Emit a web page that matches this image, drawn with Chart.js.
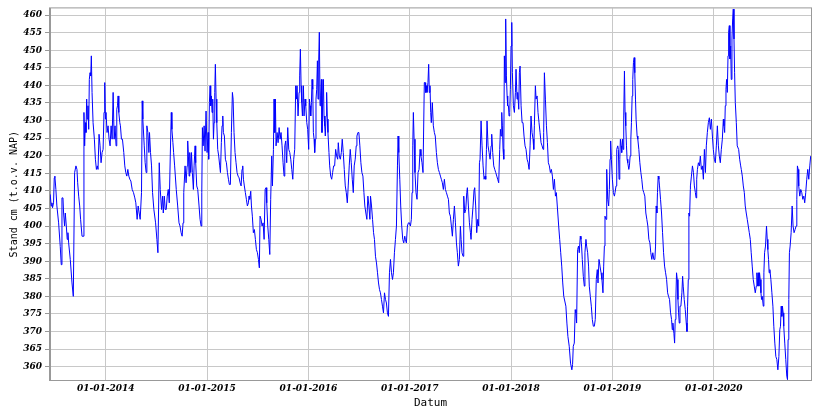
<!DOCTYPE html>
<html>
<head>
<meta charset="utf-8">
<script src="https://cdn.jsdelivr.net/npm/chart.js@4"></script>
<style>
  body { margin: 0; background: #fff; }
</style>
</head>
<body>
<canvas id="chart" width="821" height="410"></canvas>
<script>
// waterstand, datum als decimaal jaar
const dates = [
  2013.452, 2013.462, 2013.469, 2013.475, 2013.485, 2013.492, 2013.498, 2013.508, 2013.518, 2013.535,
  2013.551, 2013.561, 2013.568, 2013.578, 2013.584, 2013.594, 2013.601, 2013.611, 2013.620, 2013.627,
  2013.634, 2013.650, 2013.667, 2013.680, 2013.693, 2013.706, 2013.716, 2013.723, 2013.733, 2013.743,
  2013.752, 2013.766, 2013.776, 2013.785, 2013.792, 2013.799, 2013.805, 2013.812, 2013.818, 2013.825,
  2013.832, 2013.838, 2013.845, 2013.852, 2013.858, 2013.865, 2013.875, 2013.888, 2013.898, 2013.908,
  2013.917, 2013.924, 2013.934, 2013.944, 2013.954, 2013.964, 2013.974, 2013.983, 2013.990, 2013.997,
  2014.003, 2014.013, 2014.023, 2014.033, 2014.043, 2014.053, 2014.063, 2014.073, 2014.083, 2014.092,
  2014.102, 2014.109, 2014.116, 2014.122, 2014.129, 2014.139, 2014.145, 2014.155, 2014.165, 2014.178,
  2014.188, 2014.198, 2014.208, 2014.218, 2014.228, 2014.238, 2014.248, 2014.261, 2014.274, 2014.287,
  2014.297, 2014.310, 2014.320, 2014.330, 2014.340, 2014.347, 2014.353, 2014.360, 2014.366, 2014.380,
  2014.389, 2014.399, 2014.406, 2014.416, 2014.426, 2014.432, 2014.442, 2014.452, 2014.462, 2014.475,
  2014.492, 2014.505, 2014.515, 2014.521, 2014.528, 2014.538, 2014.551, 2014.561, 2014.568, 2014.578,
  2014.587, 2014.597, 2014.607, 2014.617, 2014.627, 2014.637, 2014.647, 2014.653, 2014.663, 2014.670,
  2014.680, 2014.696, 2014.710, 2014.723, 2014.733,
  2014.744, 2014.754, 2014.763, 2014.770, 2014.783, 2014.793, 2014.803, 2014.809, 2014.816, 2014.823,
  2014.829, 2014.839, 2014.846, 2014.855, 2014.865, 2014.872, 2014.882, 2014.888, 2014.898, 2014.908,
  2014.921, 2014.931, 2014.941, 2014.948, 2014.954, 2014.961, 2014.971, 2014.980, 2014.990, 2015.000,
  2015.010, 2015.016, 2015.023, 2015.030, 2015.036, 2015.043, 2015.049, 2015.056, 2015.063, 2015.069,
  2015.076, 2015.082, 2015.089, 2015.096, 2015.105, 2015.115, 2015.125, 2015.132, 2015.141, 2015.148,
  2015.155, 2015.161, 2015.171, 2015.181, 2015.191, 2015.201, 2015.211, 2015.220, 2015.230, 2015.240,
  2015.250, 2015.257, 2015.266, 2015.276, 2015.286, 2015.296, 2015.306, 2015.316, 2015.326, 2015.336,
  2015.345, 2015.352, 2015.359, 2015.368, 2015.378, 2015.388, 2015.398, 2015.408, 2015.414, 2015.421,
  2015.431, 2015.438, 2015.447, 2015.457, 2015.467, 2015.477, 2015.487, 2015.497, 2015.507, 2015.516,
  2015.523, 2015.533, 2015.543, 2015.553, 2015.563, 2015.573, 2015.582, 2015.589, 2015.599, 2015.609,
  2015.619, 2015.628, 2015.638, 2015.645, 2015.655, 2015.661, 2015.668, 2015.674, 2015.681, 2015.691,
  2015.701, 2015.711, 2015.721, 2015.730, 2015.740, 2015.750, 2015.760, 2015.767, 2015.776, 2015.786,
  2015.796, 2015.806, 2015.816, 2015.826, 2015.836, 2015.846, 2015.855, 2015.865, 2015.875, 2015.882,
  2015.888, 2015.898, 2015.908, 2015.914, 2015.921, 2015.928, 2015.934, 2015.941, 2015.951, 2015.957,
  2015.967, 2015.974,
  2015.984, 2015.993, 2016.003, 2016.010, 2016.016, 2016.023, 2016.030, 2016.036, 2016.043, 2016.049,
  2016.056, 2016.062, 2016.069, 2016.075, 2016.082, 2016.089, 2016.095, 2016.102, 2016.108, 2016.115,
  2016.121, 2016.128, 2016.134, 2016.141, 2016.148, 2016.154, 2016.161, 2016.167, 2016.174, 2016.180,
  2016.187, 2016.193, 2016.203, 2016.210, 2016.220, 2016.230, 2016.239, 2016.249, 2016.259, 2016.269,
  2016.279, 2016.289, 2016.295, 2016.305, 2016.315, 2016.325, 2016.334, 2016.344, 2016.354, 2016.364,
  2016.374, 2016.384, 2016.393, 2016.403, 2016.413, 2016.423, 2016.433, 2016.443, 2016.452, 2016.462,
  2016.472, 2016.479, 2016.489, 2016.498, 2016.508, 2016.518, 2016.528, 2016.538, 2016.548, 2016.557,
  2016.567, 2016.577, 2016.587, 2016.597, 2016.607, 2016.613, 2016.623, 2016.633, 2016.643, 2016.652,
  2016.662, 2016.672, 2016.682, 2016.692, 2016.702, 2016.711, 2016.721, 2016.731, 2016.741, 2016.751,
  2016.761, 2016.770, 2016.780, 2016.790, 2016.800, 2016.810, 2016.820, 2016.830, 2016.839, 2016.849,
  2016.859, 2016.869, 2016.879, 2016.885, 2016.892, 2016.902, 2016.911, 2016.921, 2016.931, 2016.941,
  2016.951, 2016.957, 2016.967, 2016.977, 2016.987, 2016.997, 2017.007, 2017.016, 2017.023, 2017.030,
  2017.036, 2017.043, 2017.052, 2017.062, 2017.072, 2017.082, 2017.092, 2017.102, 2017.111, 2017.121,
  2017.131, 2017.138, 2017.144, 2017.151, 2017.157, 2017.164, 2017.170, 2017.180, 2017.187, 2017.193,
  2017.200, 2017.207, 2017.213, 2017.223, 2017.233, 2017.243, 2017.252,
  2017.263, 2017.273, 2017.283, 2017.293, 2017.303, 2017.312, 2017.322, 2017.332, 2017.342, 2017.352,
  2017.362, 2017.372, 2017.382, 2017.391, 2017.401, 2017.411, 2017.421, 2017.431, 2017.441, 2017.451,
  2017.461, 2017.470, 2017.480, 2017.490, 2017.500, 2017.507, 2017.516, 2017.526, 2017.533, 2017.543,
  2017.553, 2017.563, 2017.569, 2017.579, 2017.589, 2017.599, 2017.605, 2017.615, 2017.625, 2017.635,
  2017.641, 2017.651, 2017.661, 2017.671, 2017.681, 2017.688, 2017.694, 2017.704, 2017.714, 2017.724,
  2017.734, 2017.743, 2017.750, 2017.757, 2017.763, 2017.773, 2017.783, 2017.793, 2017.803, 2017.809,
  2017.819, 2017.829, 2017.839, 2017.849, 2017.859, 2017.868, 2017.878, 2017.888, 2017.895, 2017.901,
  2017.908, 2017.914, 2017.921, 2017.928, 2017.934, 2017.941, 2017.947, 2017.954, 2017.961, 2017.967,
  2017.974, 2017.980, 2017.987, 2017.993, 2018.000, 2018.007, 2018.013, 2018.023, 2018.033, 2018.043,
  2018.049, 2018.059, 2018.066, 2018.076, 2018.082, 2018.089, 2018.099, 2018.109, 2018.118, 2018.128,
  2018.138, 2018.148, 2018.158, 2018.168, 2018.178, 2018.188, 2018.197, 2018.207, 2018.217, 2018.224,
  2018.230, 2018.240, 2018.247, 2018.257, 2018.266, 2018.276, 2018.286, 2018.296, 2018.306, 2018.316,
  2018.322, 2018.329, 2018.339, 2018.349, 2018.359, 2018.368, 2018.378, 2018.388, 2018.398, 2018.408,
  2018.418, 2018.428, 2018.438, 2018.447, 2018.461, 2018.470, 2018.480, 2018.490, 2018.500, 2018.510,
  2018.520,
  2018.541, 2018.551, 2018.561, 2018.574, 2018.587, 2018.600, 2018.607, 2018.614, 2018.624, 2018.633,
  2018.640, 2018.647, 2018.657, 2018.666, 2018.673, 2018.683, 2018.690, 2018.696, 2018.703, 2018.713,
  2018.723, 2018.729, 2018.739, 2018.746, 2018.756, 2018.765, 2018.772, 2018.782, 2018.792, 2018.802,
  2018.812, 2018.822, 2018.831, 2018.841, 2018.851, 2018.858, 2018.868, 2018.878, 2018.888, 2018.897,
  2018.907, 2018.914, 2018.921, 2018.927, 2018.937, 2018.944, 2018.954, 2018.963, 2018.970, 2018.977,
  2018.983, 2018.990, 2019.000, 2019.010, 2019.020, 2019.026, 2019.036, 2019.043, 2019.053, 2019.059,
  2019.066, 2019.073, 2019.079, 2019.086, 2019.092, 2019.099, 2019.106, 2019.112, 2019.119, 2019.125,
  2019.132, 2019.139, 2019.145, 2019.152, 2019.162, 2019.168, 2019.175, 2019.182, 2019.188, 2019.195,
  2019.201, 2019.208, 2019.215, 2019.221, 2019.228, 2019.234, 2019.244, 2019.251, 2019.261, 2019.271,
  2019.281, 2019.290, 2019.300, 2019.310, 2019.320, 2019.330, 2019.340, 2019.350, 2019.360, 2019.370,
  2019.379, 2019.389, 2019.399, 2019.409, 2019.419, 2019.426, 2019.432, 2019.439, 2019.445, 2019.452,
  2019.459, 2019.465, 2019.475, 2019.485, 2019.495, 2019.505, 2019.515, 2019.525, 2019.535, 2019.545,
  2019.554, 2019.564, 2019.574, 2019.584, 2019.591, 2019.597, 2019.607, 2019.614, 2019.620, 2019.627,
  2019.633, 2019.640, 2019.647, 2019.653, 2019.660, 2019.667, 2019.676, 2019.686, 2019.693, 2019.699,
  2019.709, 2019.719, 2019.729, 2019.736, 2019.742, 2019.749, 2019.755, 2019.762, 2019.769,
  2019.770, 2019.780, 2019.790, 2019.800, 2019.809, 2019.819, 2019.826, 2019.832, 2019.839, 2019.849,
  2019.859, 2019.868, 2019.878, 2019.888, 2019.898, 2019.908, 2019.918, 2019.927, 2019.937, 2019.947,
  2019.957, 2019.967, 2019.977, 2019.987, 2019.996, 2020.006, 2020.016, 2020.026, 2020.036, 2020.046,
  2020.055, 2020.065, 2020.075, 2020.085, 2020.095, 2020.101, 2020.108, 2020.114, 2020.121, 2020.127,
  2020.134, 2020.141, 2020.147, 2020.154, 2020.160, 2020.167, 2020.173, 2020.180, 2020.187, 2020.193,
  2020.200, 2020.206, 2020.213, 2020.223, 2020.232, 2020.246, 2020.256, 2020.266, 2020.272, 2020.282,
  2020.292, 2020.302, 2020.311, 2020.321, 2020.331, 2020.341, 2020.351, 2020.361, 2020.370, 2020.380,
  2020.390, 2020.400, 2020.410, 2020.420, 2020.426, 2020.433, 2020.439, 2020.446, 2020.452, 2020.459,
  2020.466, 2020.472, 2020.479, 2020.489, 2020.495, 2020.502, 2020.511, 2020.521, 2020.528, 2020.534,
  2020.541, 2020.547, 2020.554, 2020.564, 2020.574, 2020.584, 2020.593, 2020.603, 2020.613, 2020.623,
  2020.633, 2020.643, 2020.652, 2020.659, 2020.666, 2020.672, 2020.678, 2020.685, 2020.691, 2020.701,
  2020.711, 2020.721, 2020.728, 2020.734, 2020.741, 2020.747, 2020.754, 2020.764, 2020.774, 2020.783,
  2020.793, 2020.803, 2020.813, 2020.820, 2020.826, 2020.833, 2020.839, 2020.849, 2020.859, 2020.869,
  2020.879, 2020.889, 2020.898, 2020.908, 2020.918, 2020.928, 2020.938, 2020.948, 2020.957
];

// stand in cm t.o.v. NAP
const levels = [
  409.0, 405.7, 406.6, 405.2, 406.6, 413.7, 414.2, 410.4, 405.7, 400.9,
  394.2, 389.0, 408.0, 408.0, 403.7, 400.0, 403.7, 400.0, 396.2, 398.1,
  395.2, 390.5, 383.8, 380.0, 415.2, 417.1, 416.1, 412.3, 408.5, 405.7,
  401.9, 397.1, 397.1, 432.3, 422.8, 429.4, 426.6, 436.1, 430.4, 434.2,
  427.5, 441.7, 443.6, 442.7, 448.4, 438.0, 429.4, 424.7, 419.0, 416.1,
  417.1, 416.1, 426.1, 422.8, 418.0, 420.9, 421.8, 432.3, 440.8, 430.4,
  432.3, 426.6, 428.5, 424.7, 422.8, 428.5, 424.7, 438.0, 424.7, 428.5,
  422.8, 433.2, 434.2, 437.0, 432.3, 429.4, 428.5, 424.7, 424.7, 420.9,
  417.1, 415.2, 414.2, 416.1, 414.2, 413.3, 412.8, 410.4, 409.5, 408.0,
  406.6, 401.9, 405.7, 403.7, 401.9, 401.9, 409.5, 435.6, 430.4, 422.8,
  418.0, 415.2, 428.5, 426.6, 420.9, 426.6, 420.9, 417.1, 409.5, 404.7,
  400.9, 396.2, 392.4, 403.7, 418.0, 410.4, 404.7, 408.5, 403.7, 408.5,
  404.7, 404.7, 408.5, 410.4, 406.6, 419.9, 432.3, 427.5, 423.7, 420.9,
  417.1, 410.4, 405.7, 400.9, 400.0,
  398.1, 397.1, 400.9, 409.5, 417.1, 412.3, 417.1, 424.2, 419.9, 414.2,
  420.9, 415.2, 420.9, 415.2, 410.4, 417.1, 422.8, 418.0, 411.4, 410.4,
  405.7, 401.9, 400.0, 409.5, 428.0, 422.8, 428.5, 421.3, 432.7, 420.9,
  426.6, 419.0, 435.1, 439.9, 434.2, 437.0, 432.3, 436.1, 424.7, 429.4,
  438.0, 446.0, 436.1, 429.4, 421.8, 419.9, 417.1, 415.2, 423.7, 428.5,
  431.3, 426.6, 425.6, 419.0, 418.0, 415.2, 413.3, 411.8, 411.8, 426.6,
  438.0, 436.1, 426.6, 420.9, 418.0, 415.2, 414.2, 413.7, 412.3, 411.4,
  416.1, 417.1, 413.3, 411.4, 409.5, 407.6, 405.7, 406.6, 408.5, 407.6,
  409.9, 405.7, 402.8, 398.1, 399.0, 396.2, 393.3, 392.4, 390.5, 388.1,
  402.8, 401.9, 400.0, 400.9, 396.2, 410.4, 410.9, 406.6, 400.0, 396.2,
  391.9, 407.6, 419.9, 411.4, 421.8, 436.1, 426.6, 436.1, 422.8, 426.6,
  423.7, 428.0, 424.7, 426.6, 422.8, 418.0, 414.2, 422.8, 424.2, 418.0,
  428.0, 421.8, 420.9, 419.0, 416.1, 413.3, 419.0, 421.8, 439.9, 436.1,
  439.9, 431.3, 438.0, 442.7, 450.3, 439.9, 435.1, 431.3, 439.9, 431.3,
  436.1, 434.2,
  429.4, 427.5, 421.8, 436.1, 434.2, 431.3, 435.1, 441.7, 438.9, 426.6,
  424.7, 420.9, 424.7, 436.1, 438.9, 447.0, 436.1, 447.5, 455.1, 434.2,
  437.0, 441.7, 426.6, 435.1, 441.7, 431.3, 428.5, 425.6, 431.3, 438.0,
  430.4, 426.6, 420.9, 417.1, 414.2, 413.3, 415.2, 417.1, 417.1, 421.8,
  419.9, 419.0, 423.7, 419.9, 419.0, 420.9, 424.7, 420.9, 416.1, 411.4,
  409.5, 406.6, 411.4, 417.1, 421.8, 418.0, 413.3, 409.5, 417.1, 419.0,
  422.8, 425.6, 426.6, 426.6, 422.8, 418.0, 415.2, 414.2, 409.5, 405.7,
  403.7, 401.9, 408.5, 405.7, 401.9, 408.5, 405.7, 401.9, 398.1, 396.2,
  391.4, 389.5, 386.7, 383.8, 381.9, 381.0, 379.1, 377.2, 375.3, 381.0,
  379.1, 378.1, 375.3, 374.3, 386.7, 390.5, 386.7, 384.8, 386.7, 392.4,
  396.2, 400.0, 417.1, 425.6, 420.9, 413.3, 405.7, 400.0, 396.2, 395.2,
  397.1, 396.2, 395.2, 400.0, 400.9, 400.9, 400.0, 401.9, 409.5, 422.8,
  432.3, 424.7, 415.2, 409.5, 407.6, 415.2, 416.1, 421.8, 419.9, 418.0,
  415.2, 415.2, 440.8, 440.8, 438.0, 439.9, 438.0, 440.8, 446.0, 438.0,
  439.9, 432.3, 429.4, 435.1, 428.5, 426.6, 425.6,
  420.9, 418.0, 416.1, 415.2, 414.2, 413.3, 412.3, 410.4, 413.3, 410.4,
  409.5, 408.5, 407.6, 403.7, 402.8, 400.0, 397.1, 401.9, 405.7, 400.9,
  395.2, 392.4, 388.6, 390.5, 400.0, 396.2, 392.4, 391.4, 408.5, 403.7,
  404.7, 409.5, 410.9, 405.7, 400.9, 398.1, 396.2, 401.9, 405.7, 410.4,
  410.9, 405.7, 398.1, 401.9, 400.0, 418.0, 419.0, 429.9, 422.8, 417.1,
  413.3, 414.2, 413.3, 421.8, 429.9, 422.8, 420.9, 419.0, 422.8, 426.1,
  420.9, 417.1, 416.1, 415.2, 414.2, 413.3, 412.3, 421.8, 427.5, 425.6,
  432.3, 428.5, 421.8, 419.0, 448.4, 440.8, 458.9, 442.7, 437.0, 434.2,
  434.2, 431.3, 432.3, 438.9, 451.2, 457.9, 443.6, 434.2, 432.3, 438.0,
  444.6, 436.1, 438.0, 433.2, 443.6, 445.5, 434.2, 429.4, 429.4, 425.6,
  422.8, 421.8, 419.0, 418.0, 416.1, 422.8, 431.3, 426.6, 424.7, 421.8,
  428.5, 439.9, 436.1, 437.0, 432.3, 429.4, 426.6, 423.7, 422.8, 421.8,
  426.6, 443.6, 436.1, 428.5, 423.7, 418.0, 417.1, 415.2, 416.1, 414.2,
  410.4, 413.3, 408.5, 409.5, 403.7, 400.0, 396.2, 392.4, 388.6, 383.8,
  380.0,
  377.2, 372.4, 368.6, 365.8, 361.0, 359.1, 360.6, 365.8, 366.7, 376.2,
  375.3, 372.4, 393.3, 394.3, 392.4, 397.1, 396.2, 394.3, 390.5, 385.7,
  382.9, 392.4, 396.2, 394.3, 392.4, 388.6, 382.9, 380.0, 377.2, 373.4,
  371.5, 371.5, 373.4, 384.8, 387.6, 383.8, 390.5, 388.6, 386.7, 384.8,
  381.0, 388.6, 394.3, 402.8, 401.9, 416.1, 407.6, 405.7, 410.4, 419.0,
  424.2, 419.0, 413.3, 409.5, 408.5, 409.5, 411.4, 421.8, 422.8, 421.8,
  413.3, 419.0, 424.7, 422.8, 420.9, 424.7, 421.8, 431.3, 444.1, 432.3,
  428.5, 422.8, 419.0, 418.0, 416.1, 417.1, 419.9, 424.7, 429.4, 437.0,
  441.7, 446.5, 447.9, 443.6, 436.1, 430.4, 425.6, 424.7, 421.8, 418.0,
  415.2, 413.3, 410.4, 409.5, 408.5, 403.7, 401.9, 400.0, 396.2, 395.2,
  392.4, 390.5, 392.4, 390.5, 390.5, 394.3, 405.7, 403.7, 409.5, 414.2,
  413.3, 411.4, 407.6, 403.7, 398.1, 392.4, 388.6, 386.7, 384.8, 381.0,
  380.0, 379.1, 375.3, 373.4, 370.5, 372.4, 369.5, 366.7, 373.4, 380.0,
  386.7, 384.8, 379.1, 375.3, 372.4, 377.2, 377.2, 381.0, 385.7, 382.9,
  379.1, 376.3, 372.4, 370.0, 377.2, 384.8, 403.7, 402.8, 410.4,
  411.4, 414.2, 417.1, 415.2, 411.4, 409.5, 408.0, 413.3, 416.1, 418.0,
  417.1, 419.9, 416.1, 417.1, 413.3, 421.8, 415.2, 422.8, 426.6, 429.4,
  430.8, 427.5, 430.4, 425.6, 421.8, 419.0, 418.0, 422.8, 428.5, 422.8,
  419.9, 418.0, 421.8, 424.7, 430.4, 428.5, 426.6, 434.2, 438.9, 441.7,
  438.0, 448.4, 455.1, 457.0, 447.5, 451.2, 441.7, 453.2, 458.9, 461.7,
  453.2, 443.6, 435.1, 429.4, 422.8, 421.8, 419.0, 417.1, 416.1, 414.2,
  411.4, 409.5, 405.7, 403.7, 401.9, 400.0, 398.1, 396.2, 392.4, 388.6,
  384.8, 382.9, 381.0, 382.9, 386.7, 382.9, 386.7, 382.9, 386.7, 384.8,
  381.0, 379.1, 380.0, 377.2, 386.7, 392.4, 394.3, 400.0, 396.2, 393.3,
  390.5, 386.7, 387.6, 384.8, 381.0, 377.2, 371.5, 366.7, 362.9, 362.0,
  359.1, 362.9, 370.5, 371.5, 377.2, 374.3, 377.2, 375.3, 371.5, 366.7,
  362.0, 357.3, 356.3, 367.7, 379.1, 392.4, 394.3, 398.1, 405.7, 400.0,
  398.1, 399.0, 400.0, 407.6, 417.1, 416.1, 411.4, 408.5, 410.4, 409.5,
  407.6, 408.5, 406.6, 409.5, 413.3, 416.1, 413.3, 417.1, 419.9
];

const yTicks = [360, 365, 370, 375, 380, 385, 390, 395, 400, 405, 410, 415, 420,
                425, 430, 435, 440, 445, 450, 455, 460];
const xTicks = [2014, 2015, 2016, 2017, 2018, 2019, 2020];
const xTickLabels = ["01-01-2014", "01-01-2015", "01-01-2016", "01-01-2017",
                     "01-01-2018", "01-01-2019", "01-01-2020"];

const tickFont = { family: "DejaVu Serif", size: 9, style: "italic", weight: "bold" };
const titleFont = { family: "DejaVu Sans Mono", size: 10 };

// kader om het plotgebied
const frame = {
  id: "frame",
  afterDraw(chart) {
    const a = chart.chartArea;
    const ctx = chart.ctx;
    ctx.save();
    ctx.strokeStyle = "#999999";
    ctx.lineWidth = 1;
    ctx.strokeRect(a.left - 0.5, a.top - 0.5, a.right - a.left + 1, a.bottom - a.top + 1);
    ctx.restore();
  }
};

const points = dates.map((d, i) => ({ x: d, y: levels[i] }));

new Chart(document.getElementById("chart"), {
  type: "line",
  data: {
    datasets: [{
      data: points,
      borderColor: "#0000ff",
      borderWidth: 1,
      pointRadius: 0,
      tension: 0,
      fill: false
    }]
  },
  options: {
    responsive: false,
    animation: false,
    layout: { padding: { top: 7, right: 10, left: 0, bottom: 0 } },
    plugins: {
      legend: { display: false },
      tooltip: { enabled: false }
    },
    scales: {
      x: {
        type: "linear",
        min: 2013.45,
        max: 2020.96,
        afterBuildTicks: (s) => { s.ticks = xTicks.map((v) => ({ value: v })); },
        afterFit: (s) => { s.height = 30; },
        grid: { color: "#c8c8c8", drawTicks: false },
        border: { color: "#999999" },
        ticks: {
          autoSkip: false,
          maxRotation: 0,
          padding: 3,
          color: "#000",
          font: tickFont,
          callback: (v) => xTickLabels[xTicks.indexOf(v)]
        },
        title: {
          display: true,
          text: "Datum",
          color: "#000",
          font: { family: "DejaVu Sans Mono", size: 11 },
          padding: { top: 0, bottom: 0 }
        }
      },
      y: {
        min: 356.2,
        max: 461.9,
        afterBuildTicks: (s) => { s.ticks = yTicks.map((v) => ({ value: v })); },
        afterFit: (s) => { s.width = 50; },
        grid: { color: "#c8c8c8", tickColor: "#999999", tickLength: 5 },
        border: { color: "#999999" },
        ticks: { padding: 3, color: "#000", font: tickFont },
        title: {
          display: true,
          text: "Stand cm (t.o.v. NAP)",
          color: "#000",
          font: titleFont,
          padding: { top: 8, bottom: 0 }
        }
      }
    }
  },
  plugins: [frame]
});
</script>
</body>
</html>
